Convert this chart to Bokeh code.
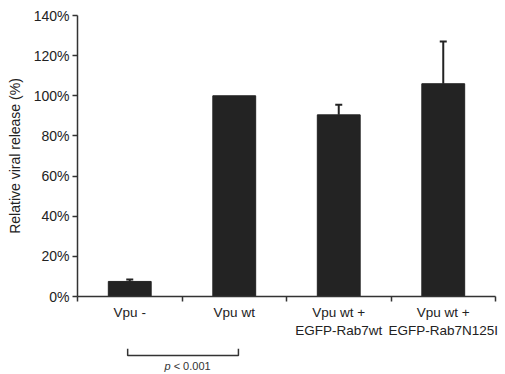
from bokeh.plotting import figure
from bokeh.layouts import column
from bokeh.models import (ColumnDataSource, FixedTicker, Range1d, Whisker, TeeHead)
from bokeh.embed import file_html
from bokeh.resources import INLINE
from bokeh.core.properties import value

categories = ["Vpu -", "Vpu wt", "Vpu wt +\nEGFP-Rab7wt", "Vpu wt +\nEGFP-Rab7N125I"]
release = [7.5, 100, 90.5, 106]
errors = [1.0, 0, 5.0, 21.0]
y_ticks = [0, 20, 40, 60, 80, 100, 120, 140]
y_tick_labels = ["0%", "20%", "40%", "60%", "80%", "100%", "120%", "140%"]
p_text_italic = "p"
p_text_rest = "< 0.001"
bracket_pair = (0, 1)

FONT = "Liberation Sans"
DARK = "#232323"

xs = [i + 0.5 for i in range(len(categories))]
src = ColumnDataSource(dict(x=xs, top=release))
err_idx = [i for i, e in enumerate(errors) if e > 0]
err_src = ColumnDataSource(dict(
    x=[xs[i] for i in err_idx],
    lower=[release[i] for i in err_idx],
    upper=[release[i] + errors[i] for i in err_idx],
))

p = figure(width=505, height=348, output_backend="svg", toolbar_location=None,
           x_range=Range1d(0, len(categories)), y_range=Range1d(0, 140),
           min_border_left=77, min_border_right=10, min_border_top=15, min_border_bottom=52)
p.vbar(x="x", top="top", width=0.41, source=src, fill_color=DARK, line_color=DARK)
wk = Whisker(base="x", lower="lower", upper="upper", source=err_src,
             line_color=DARK, line_width=2,
             upper_head=TeeHead(size=7, line_color=DARK, line_width=2), lower_head=None)
p.add_layout(wk)

p.xgrid.visible = False
p.ygrid.visible = False
p.outline_line_color = None

xa = p.xaxis[0]
xa.ticker = FixedTicker(ticks=xs, minor_ticks=list(range(len(categories) + 1)))
xa.major_label_overrides = {x: c for x, c in zip(xs, categories)}
xa.major_tick_line_color = None
xa.major_tick_out = 0
xa.major_tick_in = 0
xa.minor_tick_out = 5
xa.minor_tick_in = 0
xa.minor_tick_line_color = "#333333"
xa.minor_tick_line_width = 1.5
xa.axis_line_color = "#333333"
xa.axis_line_width = 1.5
xa.major_label_standoff = 3
xa.major_label_text_font = FONT
xa.major_label_text_font_size = "13.5px"
xa.major_label_text_color = "#222222"
xa.major_label_text_line_height = 1.2

ya = p.yaxis[0]
ya.ticker = FixedTicker(ticks=y_ticks, minor_ticks=[])
ya.major_label_overrides = {t: l for t, l in zip(y_ticks, y_tick_labels)}
ya.major_tick_out = 5
ya.major_tick_in = 0
ya.major_tick_line_color = "#333333"
ya.major_tick_line_width = 1.5
ya.axis_line_color = "#333333"
ya.axis_line_width = 1.5
ya.major_label_standoff = 3
ya.major_label_text_font = FONT
ya.major_label_text_font_size = "14px"
ya.major_label_text_color = "#222222"
ya.axis_label = "Relative viral release (%)"
ya.axis_label_text_font = FONT
ya.axis_label_text_font_style = "normal"
ya.axis_label_text_font_size = "14px"
ya.axis_label_text_color = "#222222"
ya.axis_label_standoff = 8

# bracket panel below
q = figure(width=505, height=26, output_backend="svg", toolbar_location=None,
           x_range=p.x_range, y_range=Range1d(0, 26),
           min_border_left=77, min_border_right=10, min_border_top=0, min_border_bottom=0)
q.xaxis.visible = False
q.yaxis.visible = False
q.xgrid.visible = False
q.ygrid.visible = False
q.outline_line_color = None
bl = xs[bracket_pair[0]] - 0.02
br = xs[bracket_pair[1]] + 0.04
q.line(x=[bl, bl, br, br], y=[26, 19, 19, 26], line_color="#333333", line_width=1.5)
mid = (bl + br) / 2
q.text(x=[mid - 0.12], y=[9], text=[p_text_italic], text_font=value(FONT),
       text_font_style="italic", text_font_size="11px", text_color="#333333",
       text_align="right", text_baseline="middle")
q.text(x=[mid - 0.09], y=[9], text=[p_text_rest], text_font=value(FONT),
       text_font_size="11px", text_color="#333333",
       text_align="left", text_baseline="middle")

layout = column(p, q, spacing=0)
open("out.html", "w").write(file_html(layout, INLINE))
